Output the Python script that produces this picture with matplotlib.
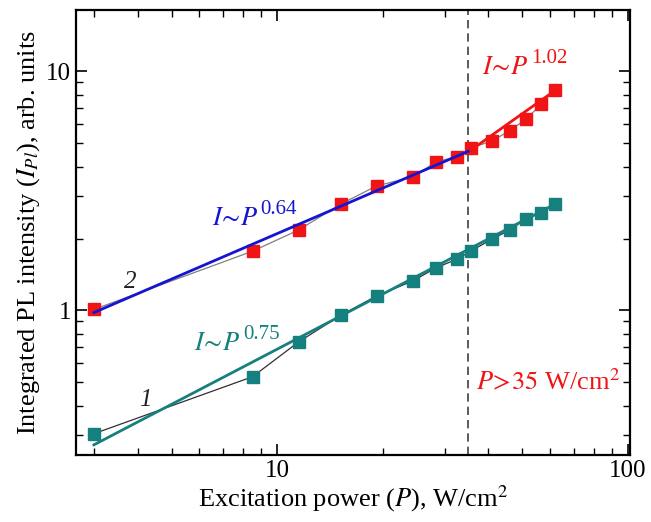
import numpy as np
import matplotlib.pyplot as plt

plt.rcParams['font.family'] = ['Liberation Serif', 'DejaVu Serif']
plt.rcParams['mathtext.fontset'] = 'stix'

# excitation power, W/cm^2
power = [3.0, 8.5, 11.5, 15.2, 19.2, 24.4, 28.4, 32.6, 35.6, 41.0, 46.0, 51.3, 56.6, 61.8]
# curve 2 (red) and curve 1 (teal), arb. units
pl2 = [1.01, 1.77, 2.17, 2.79, 3.32, 3.62, 4.19, 4.40, 4.78, 5.12, 5.65, 6.32, 7.30, 8.33]
pl1 = [0.305, 0.528, 0.738, 0.956, 1.15, 1.33, 1.51, 1.64, 1.77, 1.99, 2.17, 2.42, 2.56, 2.78]

# power-law fit segments (endpoints)
fit_blue_x = [3.0, 35.6]
fit_blue_y = [0.98, 4.68]
fit_red_x = [35.6, 61.8]
fit_red_y = [4.68, 8.30]
fit_teal_x = [3.0, 61.8]
fit_teal_y = [0.274, 2.78]

p_thr = 35

red = '#f01414'
teal = '#16807f'
blue = '#1414d2'

fig = plt.figure(figsize=(6.51, 5.22), dpi=100)
ax = fig.add_axes([0.117, 0.128, 0.851, 0.852])

ax.plot(power, pl2, color='#808080', lw=0.9, zorder=2)
ax.plot(power, pl1, color='#303030', lw=0.9, zorder=2)
ax.plot(power, pl2, 's', color=red, ms=8, zorder=3)
ax.plot(power, pl1, 's', color=teal, ms=8, zorder=3)
ax.plot(fit_blue_x, fit_blue_y, color=blue, lw=2, zorder=4)
ax.plot(fit_red_x, fit_red_y, color=red, lw=2, zorder=4)
ax.plot(fit_teal_x, fit_teal_y, color=teal, lw=2, zorder=4)

ax.axvline(p_thr, color='#404040', lw=1.2, ls=(0, (5, 3)), zorder=1)

ax.set_xscale('log')
ax.set_yscale('log')
ax.set_xlim(2.67, 101.5)
ax.set_ylim(0.248, 18)
ax.set_xticks([10, 100])
ax.set_xticklabels(['10', '100'])
ax.set_yticks([1, 10])
ax.set_yticklabels(['1', '10'])

ax.tick_params(which='both', direction='in', top=True, right=True, labelsize=18)
ax.tick_params(which='major', length=8, width=1.2)
ax.tick_params(which='minor', length=5, width=1.0)
for s in ax.spines.values():
    s.set_linewidth(1.6)

ax.set_xlabel(r'Excitation power ($P$), W/cm$^2$', fontsize=19, labelpad=1)
ax.set_ylabel(r'Integrated PL intensity ($I_{Pl}$), arb. units', fontsize=19, labelpad=3)


def power_label(x, y, expo, color):
    t = ax.text(x, y, r'$I\!\sim\!P$', color=color, fontsize=19, va='center')
    ax.annotate(expo, xy=(1, 0.5), xycoords=t, xytext=(2, 0), textcoords='offset points',
                color=color, fontsize=15, va='bottom', ha='left')


power_label(6.5, 2.42, '0.64', blue)
power_label(38.4, 10.3, '1.02', red)
power_label(5.8, 0.725, '0.75', teal)

ax.text(36.9, 0.503, r'$P\!>\!35$ W/cm$^2$', color=red, fontsize=19, va='center')
ax.text(3.8, 1.32, '2', color='#202020', fontsize=18, va='center', ha='center', style='italic')
ax.text(4.2, 0.422, '1', color='#202020', fontsize=18, va='center', ha='center', style='italic')

fig.savefig('out.png', dpi=100)
